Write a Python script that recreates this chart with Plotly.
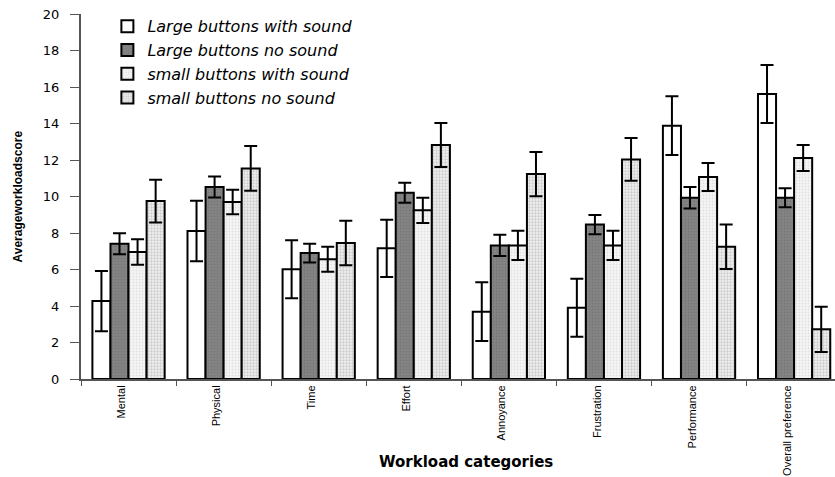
import plotly.graph_objects as go

categories = ["Mental", "Physical", "Time", "Effort", "Annoyance", "Frustration", "Performance", "Overall preference"]
series_names = ["Large buttons with sound", "Large buttons no sound", "small buttons with sound", "small buttons no sound"]
lbws = [4.27, 8.11, 6.01, 7.16, 3.69, 3.91, 13.88, 15.62]
lbws_err = [1.65, 1.66, 1.59, 1.57, 1.61, 1.59, 1.61, 1.59]
lbns = [7.41, 10.52, 6.90, 10.21, 7.32, 8.46, 9.93, 9.93]
lbns_err = [0.57, 0.58, 0.51, 0.55, 0.58, 0.53, 0.59, 0.52]
sbws = [6.96, 9.70, 6.56, 9.24, 7.32, 7.32, 11.07, 12.11]
sbws_err = [0.70, 0.67, 0.69, 0.69, 0.80, 0.80, 0.77, 0.71]
sbns = [9.75, 11.54, 7.45, 12.82, 11.23, 12.03, 7.25, 2.72]
sbns_err = [1.17, 1.23, 1.22, 1.21, 1.21, 1.17, 1.22, 1.24]
y_ticks = [0, 2, 4, 6, 8, 10, 12, 14, 16, 18, 20]

values = [lbws, lbns, sbws, sbns]
errors = [lbws_err, lbns_err, sbws_err, sbns_err]
fills = ["#ffffff", "#7c7c7c", "#ffffff", "#ffffff"]
patterns = [
    dict(shape=""),
    dict(shape=".", fgcolor="#6a6a6a", bgcolor="#848484", size=3, solidity=0.3),
    dict(shape=".", fgcolor="#c8c8c8", bgcolor="#f6f6f6", size=3, solidity=0.3),
    dict(shape=".", fgcolor="#a8a8a8", bgcolor="#f0f0f0", size=3, solidity=0.45),
]

fig = go.Figure()
for i in range(4):
    fig.add_trace(go.Bar(
        name=series_names[i], x=categories, y=values[i],
        legendgroup=f"g{i}",
        marker=dict(color=fills[i], line=dict(color="black", width=2), pattern=patterns[i]),
        error_y=dict(type="data", array=errors[i], visible=True, color="black", thickness=2, width=6.5),
    ))

fig.update_layout(
    width=835, height=477,
    margin=dict(l=81, r=0, t=14, b=98),
    paper_bgcolor="white", plot_bgcolor="white",
    barmode="group", bargap=0.24, bargroupgap=0,
    showlegend=True,
    legend=dict(x=0.035, y=1.013, xanchor="left", yanchor="top", bgcolor="rgba(0,0,0,0)",
                font=dict(family="DejaVu Sans", size=16, color="black", style="italic"),
                traceorder="normal"),
    xaxis=dict(range=[-0.5, 7.43], showline=True, linecolor="#555555", linewidth=2,
               ticks="outside", tickson="boundaries", ticklen=5, tickcolor="#555555", tickwidth=1,
               tickangle=-90, ticklabelshift=-7,
               tickfont=dict(family="Liberation Sans", size=11, color="black"),
               showgrid=False, zeroline=False, automargin=False),
    yaxis=dict(range=[0, 20], tickvals=y_ticks, showline=True, linecolor="#555555", linewidth=2,
               ticks="outside", ticklen=9, tickcolor="#555555", tickwidth=1, ticklabelstandoff=8,
               tickfont=dict(family="DejaVu Sans", size=13, color="black"),
               showgrid=False, zeroline=False, automargin=False),
    annotations=[
        dict(text="<b>Workload categories</b>", xref="paper", yref="paper", x=0.5106, y=0,
             yshift=-83, xanchor="center", yanchor="middle", showarrow=False,
             font=dict(family="DejaVu Sans", size=15, color="black")),
        dict(text="<b>Averageworkloadscore</b>", xref="paper", yref="paper", x=0, y=0.5,
             xshift=-64, xanchor="center", yanchor="middle", showarrow=False, textangle=-90,
             font=dict(family="Liberation Sans", size=12, color="black")),
    ],
)

fig.write_html("out.html", config={"displayModeBar": False},
               post_script="document.body.style.margin='0';document.body.style.overflow='hidden';")
